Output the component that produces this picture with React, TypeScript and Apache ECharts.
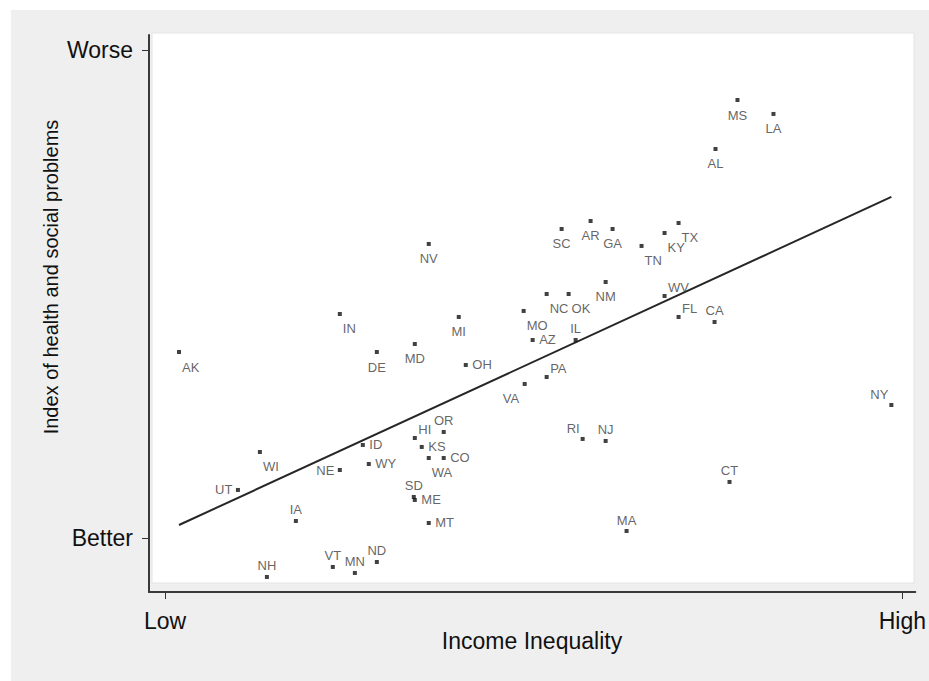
import React, { useEffect, useRef } from "react";
import * as echarts from "echarts";

// ---- data ----
const states = [
  "AK", "UT", "WI", "NH", "IA", "VT", "NE", "IN", "MN", "ID",
  "WY", "ND", "DE", "MD", "HI", "SD", "ME", "KS", "WA", "MT",
  "NV", "CO", "OR", "MI", "OH", "MO", "VA", "AZ", "NC", "PA",
  "SC", "OK", "IL", "RI", "AR", "NJ", "NM", "GA", "MA", "TN",
  "KY", "WV", "TX", "FL", "CA", "AL", "CT", "MS", "LA", "NY",
];
// income inequality: 0 = Low, 100 = High
const inequality = [
  1.9, 9.89, 12.87, 13.82, 17.75, 22.76, 23.71, 23.71, 25.75, 26.83,
  27.64, 28.73, 28.73, 33.88, 33.88, 33.74, 33.88, 34.82, 35.77, 35.77,
  35.77, 37.8, 37.8, 39.84, 40.79, 48.64, 48.78, 49.86, 51.76, 51.76,
  53.79, 54.74, 55.69, 56.64, 57.72, 59.76, 59.76, 60.7, 62.6, 64.63,
  67.75, 67.75, 69.65, 69.65, 74.53, 74.66, 76.56, 77.64, 82.52, 98.51,
];
// index of health and social problems: 0 = Better, 100 = Worse
const healthIndex = [
  38.11, 9.84, 17.62, -7.99, 3.48, -5.94, 13.93, 45.9, -7.17, 19.06,
  15.16, -4.92, 38.11, 39.75, 20.49, 8.4, 7.79, 18.65, 16.39, 3.07,
  60.25, 16.39, 21.72, 45.29, 35.45, 46.52, 31.56, 40.57, 50.0, 32.99,
  63.32, 50.0, 40.57, 20.29, 64.96, 19.88, 52.46, 63.32, 1.43, 59.84,
  62.5, 49.59, 64.55, 45.29, 44.26, 79.71, 11.48, 89.75, 86.89, 27.25,
];
// fitted line endpoints
const fitX = [1.9, 98.51];
const fitY = [2.66, 69.88];

const xTickValues = [0, 100];
const xTickLabels = ["Low", "High"];
const yTickValues = [0, 100];
const yTickLabels = ["Better", "Worse"];

const xTitle = "Income Inequality";
const yTitle = "Index of health and social problems";

// marker-label clock positions (as in the original plot)
const labelClock: Record<string, number> = {
  AK: 5, UT: 9, WI: 5, NH: 12, IA: 12, VT: 12, NE: 9, IN: 5, MN: 12, ID: 3,
  WY: 3, ND: 12, DE: 6, MD: 6, HI: 2, SD: 12, ME: 3, KS: 3, WA: 5, MT: 3,
  NV: 6, CO: 3, OR: 12, MI: 6, OH: 3, MO: 5, VA: 7, AZ: 3, NC: 5, PA: 2,
  SC: 6, OK: 5, IL: 12, RI: 11, AR: 6, NJ: 12, NM: 6, GA: 6, MA: 12, TN: 5,
  KY: 5, WV: 2, TX: 5, FL: 2, CA: 12, AL: 6, CT: 12, MS: 6, LA: 6, NY: 11,
};

// symbol bounding box is 4x4; position arrays are relative to its top-left
const clockStyle: Record<number, { align: string; pos: number[] }> = {
  6: { align: "center", pos: [2, 17] },
  12: { align: "center", pos: [2, -9] },
  3: { align: "left", pos: [8.5, 2] },
  9: { align: "right", pos: [-3.5, 2] },
  5: { align: "left", pos: [5, 17] },
  2: { align: "left", pos: [5.5, -6.5] },
  11: { align: "right", pos: [-1, -8.5] },
  7: { align: "right", pos: [-3.5, 17] },
};

const FONT = "'Liberation Sans', Arial, Helvetica, sans-serif";

export default function App() {
  const ref = useRef<HTMLDivElement>(null);

  useEffect(() => {
    if (!ref.current) return;
    const chart = echarts.init(ref.current, null, { renderer: "svg" });

    const points = states.map((s, i) => {
      const c = clockStyle[labelClock[s]];
      return {
        name: s,
        value: [inequality[i], healthIndex[i]],
        label: {
          show: true,
          position: c.pos,
          align: c.align,
          verticalAlign: "middle",
          formatter: s,
        },
      };
    });

    const option: any = {
      animation: false,
      backgroundColor: "transparent",
      grid: { left: 138, right: 13, top: 25, bottom: 89, containLabel: false },
      graphic: [
        {
          type: "rect",
          z: -10,
          silent: true,
          shape: { x: 141, y: 23, width: 762, height: 550 },
          style: { fill: "#ffffff", stroke: "#e4e4e4", lineWidth: 1 },
        },
        {
          type: "text",
          x: 521,
          y: 631,
          silent: true,
          style: {
            text: xTitle,
            font: `23px ${FONT}`,
            fill: "#111",
            align: "center",
            verticalAlign: "middle",
          },
        },
        {
          type: "text",
          x: 40,
          y: 267,
          rotation: Math.PI / 2,
          silent: true,
          style: {
            text: yTitle,
            font: `20px ${FONT}`,
            fill: "#111",
            align: "center",
            verticalAlign: "middle",
          },
        },
      ],
      xAxis: {
        type: "value",
        min: -2.17,
        max: 101.76,
        splitLine: { show: false },
        axisLine: { show: true, onZero: false, lineStyle: { color: "#3a3a3a", width: 2 } },
        axisTick: {
          show: true,
          length: 7,
          customValues: xTickValues,
          lineStyle: { color: "#333", width: 1 },
        },
        axisLabel: {
          show: true,
          margin: 17,
          customValues: xTickValues,
          formatter: (v: number) => xTickLabels[xTickValues.indexOf(v)] ?? "",
          fontFamily: FONT,
          fontSize: 23,
          color: "#111",
        },
      },
      yAxis: {
        type: "value",
        min: -11.07,
        max: 103.07,
        splitLine: { show: false },
        axisLine: { show: true, onZero: false, lineStyle: { color: "#3a3a3a", width: 2 } },
        axisTick: {
          show: true,
          length: 7,
          customValues: yTickValues,
          lineStyle: { color: "#333", width: 1 },
        },
        axisLabel: {
          show: true,
          margin: 16,
          customValues: yTickValues,
          formatter: (v: number) => yTickLabels[yTickValues.indexOf(v)] ?? "",
          fontFamily: FONT,
          fontSize: 23,
          color: "#111",
        },
      },
      series: [
        {
          type: "line",
          data: fitX.map((x, i) => [x, fitY[i]]),
          showSymbol: false,
          symbol: "none",
          lineStyle: { color: "#262626", width: 2 },
          silent: true,
          z: 2,
        },
        {
          type: "scatter",
          data: points,
          symbol: "rect",
          symbolSize: 4,
          itemStyle: { color: "#111" },
          label: {
            show: true,
            fontFamily: FONT,
            fontSize: 13,
            color: "#3c3c3c",
          },
          z: 3,
        },
      ],
    };

    chart.setOption(option);
    return () => chart.dispose();
  }, []);

  return (
    <div
      style={{
        position: "fixed",
        left: 0,
        top: 0,
        width: 929,
        height: 681,
        background: "#ffffff",
      }}
    >
      <div
        ref={ref}
        style={{
          position: "absolute",
          left: 11,
          top: 10,
          width: 918,
          height: 671,
          background: "#efefef",
        }}
      />
    </div>
  );
}
